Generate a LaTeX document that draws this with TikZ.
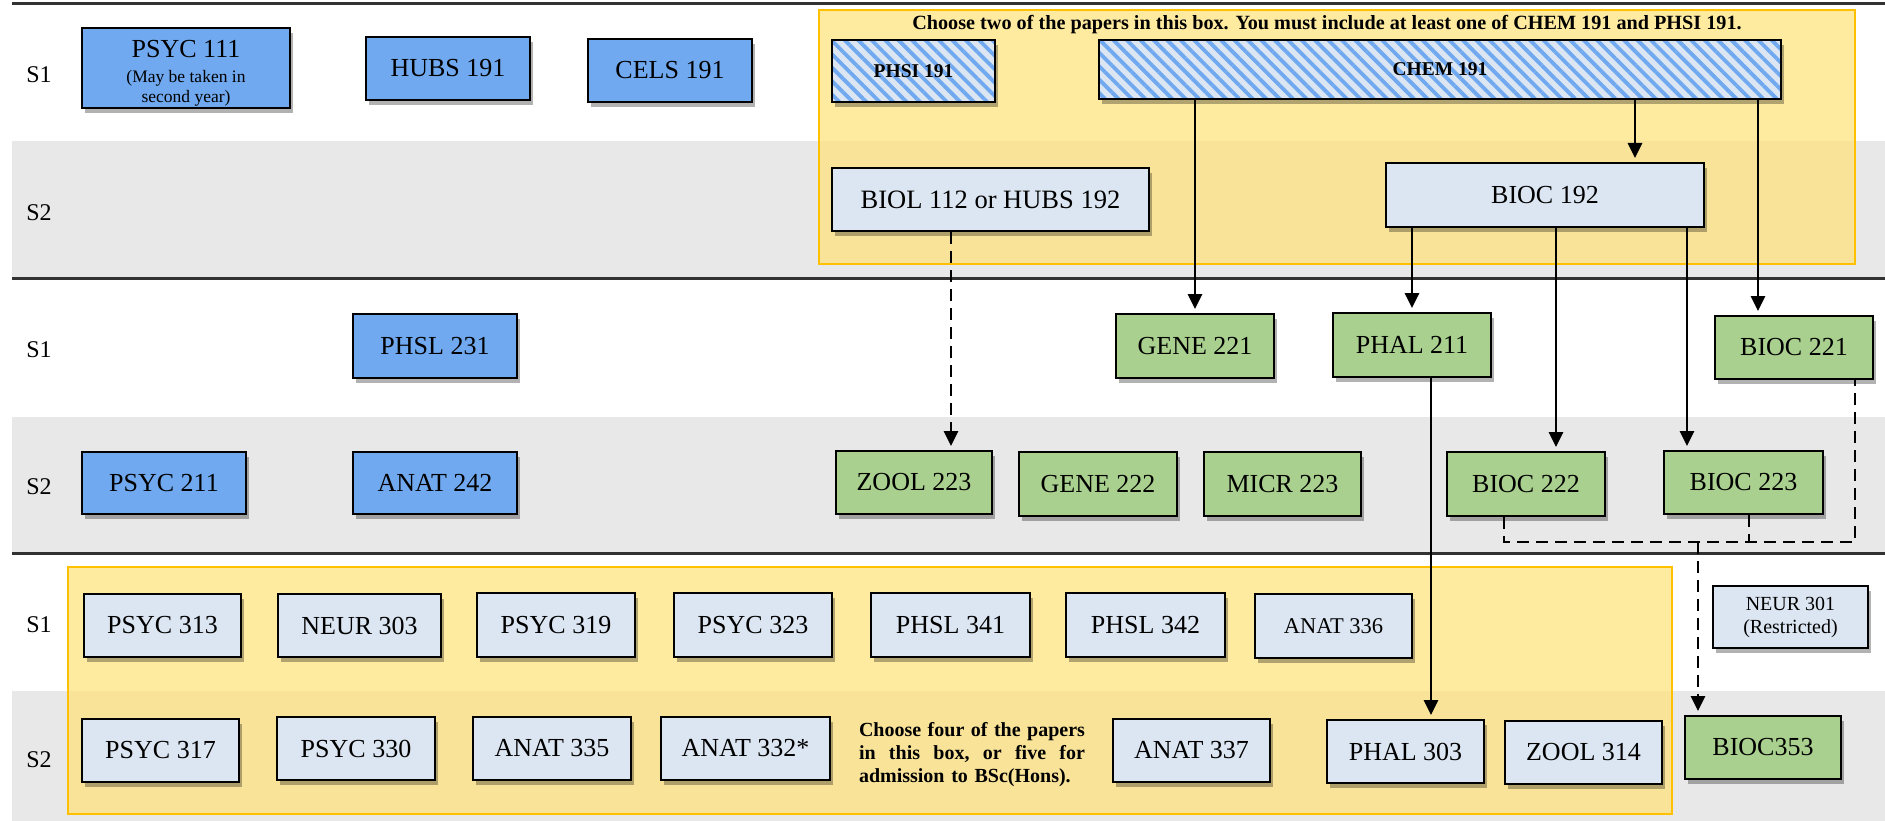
\documentclass[tikz,border=0pt]{standalone}
\usepackage{fontspec}
\setmainfont{Liberation Serif}
\usetikzlibrary{shapes,arrows.meta,shadows,patterns.meta}

\definecolor{firstblue}{RGB}{112,169,239}
\definecolor{secondgreen}{RGB}{169,208,142}
\definecolor{thirdpale}{RGB}{220,230,242}
\definecolor{bandgray}{RGB}{232,232,232}
\definecolor{choicefill}{RGB}{255,226,120}
\definecolor{choiceedge}{RGB}{255,192,0}
\definecolor{yearrule}{RGB}{50,50,50}

\begin{document}
\begin{tikzpicture}[x=1pt,y=-1pt,
  paper/.style={draw=black,line width=2pt,inner sep=2pt,minimum width=158pt,minimum height=63pt,
                font=\fontsize{26}{30}\selectfont,
                drop shadow={shadow xshift=3pt,shadow yshift=-5pt,opacity=0.3,fill=black}},
  bluepaper/.style={paper,fill=firstblue},
  greenpaper/.style={paper,fill=secondgreen},
  palepaper/.style={paper,fill=thirdpale},
  hatchpaper/.style={paper,preaction={fill=thirdpale},
                pattern={Lines[angle=-45,distance=9.5pt,line width=3.8pt]},pattern color=firstblue,
                font=\bfseries\fontsize{19.5}{23}\selectfont},
  choice/.style={fill=choicefill,fill opacity=0.7,draw=choiceedge,line width=2pt},
  semester/.style={font=\fontsize{24}{28}\selectfont},
  prereq/.style={line width=2.8pt,-{Triangle[length=15pt,width=14pt]},shorten >=4pt},
  dashprereq/.style={prereq,dash pattern=on 12pt off 7pt},
  dashjoin/.style={line width=2.8pt,dash pattern=on 12pt off 7pt}]

  \useasboundingbox (0,0) rectangle (1885,821);

% semester bands and year rules
  \fill[bandgray] (12,141) rectangle (1885,277);
  \fill[bandgray] (12,417) rectangle (1885,552);
  \fill[bandgray] (12,691) rectangle (1885,821);
  \draw[yearrule,line width=3pt] (12,4) -- (1885,4);
  \draw[yearrule,line width=3pt] (12,278) -- (1885,278);
  \draw[yearrule,line width=3pt] (12,553) -- (1885,553);

% choice boxes
  \filldraw[choice] (819,10) rectangle (1855,264);
  \filldraw[choice] (68,567) rectangle (1672,814);
  \node[font=\bfseries\fontsize{20.2}{24}\selectfont] (choosetwo) at (1327,25)
       {Choose two of the papers in this box. You must include at least one of CHEM 191 and PHSI 191.};
  \node[font=\bfseries\fontsize{20}{23}\selectfont,text width=226pt,align=left,inner sep=0pt] (choosefour) at (972,755)
       {\makebox[226pt]{Choose\hfill four\hfill of\hfill the\hfill papers}\\
        \makebox[226pt]{in\hfill this\hfill box,\hfill or\hfill five\hfill for}\\
        admission to BSc(Hons).};

% semester labels at left
  \node[semester] (ya) at (39,75) {S1};
  \node[semester] (yb) at (39,213) {S2};
  \node[semester] (yc) at (39,350) {S1};
  \node[semester] (yd) at (39,487) {S2};
  \node[semester] (ye) at (39,625) {S1};
  \node[semester] (yf) at (39,760) {S2};

% first year
  \node[bluepaper,minimum width=208pt,minimum height=80pt,align=center] (psyc111) at (186,68)
       {\rule{0pt}{27pt}PSYC 111\\[-5pt]{\fontsize{17.5}{20}\selectfont (May be taken in}\\[-10pt]{\fontsize{17.5}{20}\selectfont second year)}};
  \node[bluepaper,minimum width=164pt] (hubs191) at (448,68.5) {HUBS 191};
  \node[bluepaper,minimum width=164pt] (cels191) at (670,70.5) {CELS 191};
  \node[hatchpaper,minimum width=163pt,minimum height=62pt] (phsi191) at (913.5,71) {PHSI 191};
  \node[hatchpaper,minimum width=682pt,minimum height=59pt] (chem191) at (1440,69.5) {CHEM 191};
  \node[palepaper,minimum width=317pt,font=\fontsize{26.5}{30}\selectfont] (biol112) at (990.5,199.5) {BIOL 112 or HUBS 192};
  \node[palepaper,minimum width=318pt,minimum height=64pt] (bioc192) at (1545,195) {BIOC 192};

% second year
  \node[bluepaper,minimum width=164pt,minimum height=64pt] (phsl231) at (435,346) {PHSL 231};
  \node[greenpaper,minimum height=64pt] (gene221) at (1195,346) {GENE 221};
  \node[greenpaper,minimum height=64pt] (phal211) at (1412,345) {PHAL 211};
  \node[greenpaper] (bioc221) at (1794,347.5) {BIOC 221};
  \node[bluepaper,minimum width=164pt,minimum height=62pt] (psyc211) at (164,483) {PSYC 211};
  \node[bluepaper,minimum width=164pt,minimum height=62pt] (anat242) at (435,483) {ANAT 242};
  \node[greenpaper,minimum width=156pt] (zool223) at (914,482.5) {ZOOL 223};
  \node[greenpaper,minimum height=64pt] (gene222) at (1098,484) {GENE 222};
  \node[greenpaper,minimum width=157pt,minimum height=64pt] (micr223) at (1282.5,484) {MICR 223};
  \node[greenpaper,minimum height=64pt] (bioc222) at (1526,484) {BIOC 222};
  \node[greenpaper,minimum width=159pt] (bioc223) at (1743.5,482.5) {BIOC 223};

% third year
  \node[palepaper,minimum width=157pt] (psyc313) at (162.5,625.5) {PSYC 313};
  \node[palepaper,minimum width=163pt] (neur303) at (359.5,625.5) {NEUR 303};
  \node[palepaper,minimum height=64pt] (psyc319) at (556,625) {PSYC 319};
  \node[palepaper,minimum height=64pt] (psyc323) at (753,625) {PSYC 323};
  \node[palepaper,minimum width=159pt,minimum height=64pt] (phsl341) at (950.5,625) {PHSL 341};
  \node[palepaper,minimum width=159pt,minimum height=64pt] (phsl342) at (1145.5,625) {PHSL 342};
  \node[palepaper,minimum width=157pt,minimum height=64pt,font=\fontsize{22.5}{26}\selectfont] (anat336) at (1333.5,626) {ANAT 336};
  \node[palepaper,minimum width=155pt,minimum height=62pt,align=center,font=\fontsize{20}{23}\selectfont] (neur301) at (1790.5,617)
       {NEUR 301\\(Restricted)};
  \node[palepaper,minimum width=157pt] (psyc317) at (160.5,750.5) {PSYC 317};
  \node[palepaper] (psyc330) at (356,748.5) {PSYC 330};
  \node[palepaper] (anat335) at (552,748.5) {ANAT 335};
  \node[palepaper,minimum width=169pt] (anat332) at (745.5,748.5) {ANAT 332*};
  \node[palepaper,minimum width=157pt] (anat337) at (1191.5,750.5) {ANAT 337};
  \node[palepaper,minimum width=157pt] (phal303) at (1405.5,751.5) {PHAL 303};
  \node[palepaper,minimum width=157pt] (zool314) at (1583.5,752.5) {ZOOL 314};
  \node[greenpaper,minimum width=156pt] (bioc353) at (1763,747.5) {BIOC353};

% prerequisites from CHEM 191 and BIOC 192
  \draw[prereq] (gene221.north |- chem191.south) -- (gene221.north);
  \draw[prereq] ([xshift=90pt]bioc192.north |- chem191.south) -- ([xshift=90pt]bioc192.north);
  \draw[prereq] ([xshift=-36pt]bioc221.north |- chem191.south) -- ([xshift=-36pt]bioc221.north);
  \draw[prereq] (phal211.north |- bioc192.south) -- (phal211.north);
  \draw[prereq] ([xshift=30pt]bioc222.north |- bioc192.south) -- ([xshift=30pt]bioc222.north);
  \draw[prereq] ([xshift=-56.5pt]bioc223.north |- bioc192.south) -- ([xshift=-56.5pt]bioc223.north);
  \draw[prereq] ([xshift=19pt]phal211.south) -- ([xshift=19pt]phal211.south |- phal303.north);
  \draw[dashprereq] ([xshift=-39.5pt]biol112.south) -- ([xshift=-39.5pt]biol112.south |- zool223.north);

% BIOC 221, 222 or 223 into BIOC353
  \coordinate (biocjoin) at (1698,542);
  \draw[dashjoin] ([xshift=-22pt]bioc222.south) |- ([xshift=61pt]bioc221.south |- biocjoin) -- ([xshift=61pt]bioc221.south);
  \draw[dashjoin] ([xshift=5.5pt]bioc223.south) -- ([xshift=5.5pt]bioc223.south |- biocjoin);
  \draw[dashprereq] (biocjoin) -- (biocjoin |- bioc353.north);

\end{tikzpicture}
\end{document}
